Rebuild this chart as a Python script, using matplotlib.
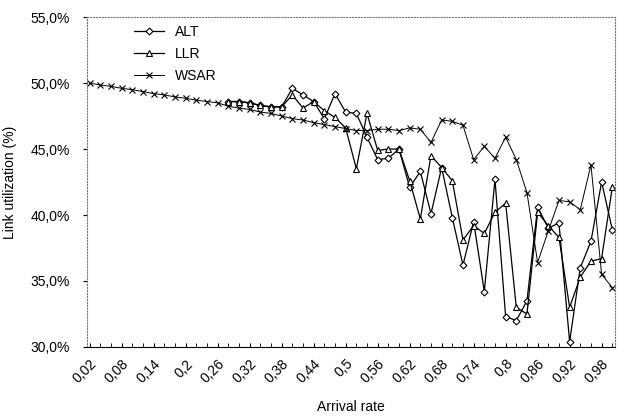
import numpy as np
import matplotlib.pyplot as plt
from matplotlib.ticker import FuncFormatter

plt.rcParams['font.family'] = ['Liberation Sans', 'DejaVu Sans']

# ── Data ─────────────────────────────────────────────────────────────────────
arrival = np.round(np.arange(0.02, 1.001, 0.02), 2)   # 50 categories

wsar = [50.0, 49.85, 49.75, 49.6, 49.5, 49.35, 49.2, 49.1, 48.95, 48.85,
        48.7, 48.6, 48.5, 48.25, 48.1, 48.0, 47.8, 47.7, 47.5, 47.3,
        47.2, 47.0, 46.85, 46.7, 46.55, 46.4, 46.4, 46.5, 46.5, 46.4,
        46.6, 46.5, 45.5, 47.2, 47.1, 46.8, 44.2, 45.2, 44.3, 45.9,
        44.2, 41.7, 36.4, 38.8, 41.1, 41.0, 40.4, 43.8, 35.5, 34.5]

# ALT and LLR only start at 0.28
start = 13
alt = [48.6, 48.6, 48.5, 48.3, 48.2, 48.2, 49.6, 49.1, 48.6, 47.3,
       49.2, 47.8, 47.7, 45.9, 44.2, 44.3, 45.0, 42.1, 43.3, 40.1,
       43.6, 39.8, 36.2, 39.5, 34.2, 42.7, 32.3, 32.0, 33.5, 40.6,
       39.0, 39.4, 30.4, 36.0, 38.0, 42.5, 38.9]
llr = [48.6, 48.6, 48.5, 48.3, 48.2, 48.2, 49.1, 48.1, 48.6, 47.9,
       47.4, 46.6, 43.5, 47.7, 44.9, 45.0, 45.0, 42.6, 39.7, 44.5,
       43.6, 42.6, 38.1, 39.2, 38.6, 40.2, 40.9, 33.0, 32.5, 40.2,
       39.2, 38.3, 33.0, 35.3, 36.5, 36.7, 42.1]

# ── Plot ─────────────────────────────────────────────────────────────────────
fig = plt.figure(figsize=(6.24, 4.17), dpi=100)
ax = fig.add_axes([0.139, 0.168, 0.847, 0.791])

ax.plot(arrival[start:], alt, color="black", lw=0.9, marker="D", ms=3.5,
        mfc="white", mec="black", mew=0.8, label="ALT")
ax.plot(arrival[start:], llr, color="black", lw=0.9, marker="^", ms=4.5,
        mfc="white", mec="black", mew=0.8, label="LLR")
ax.plot(arrival, wsar, color="black", lw=0.7, marker="x", ms=4.5,
        mew=0.8, label="WSAR")

ax.set_xlim(0.0144, 1.0056)
ax.set_ylim(30, 55)
ax.set_yticks(np.arange(30, 55.1, 5))
ax.yaxis.set_major_formatter(FuncFormatter(lambda v, p: f"{v:.1f}%".replace(".", ",")))

xt = arrival[::3]
ax.set_xticks(xt)
ax.set_xticklabels([f"{v:g}".replace(".", ",") for v in xt],
                   rotation=45, ha="right", rotation_mode="anchor", fontsize=10)
ax.set_xticks(arrival, minor=True)
ax.tick_params(axis="x", which="both", direction="in", length=3, pad=7)
ax.tick_params(axis="y", direction="out", length=3, labelsize=10, pad=9)

for s in ("top", "right", "left"):
    ax.spines[s].set_linestyle(":")
    ax.spines[s].set_color("#777777")
    ax.spines[s].set_linewidth(0.8)
ax.spines["bottom"].set_linewidth(0.8)

ax.set_xlabel("Arrival rate", fontsize=10, labelpad=10)
ax.set_ylabel("Link utilization (%)", fontsize=10, labelpad=10)

ax.legend(loc="upper left", bbox_to_anchor=(0.065, 1.015), frameon=False,
          fontsize=10, handlelength=2.2, labelspacing=0.6)

fig.savefig("out.png", dpi=100)
